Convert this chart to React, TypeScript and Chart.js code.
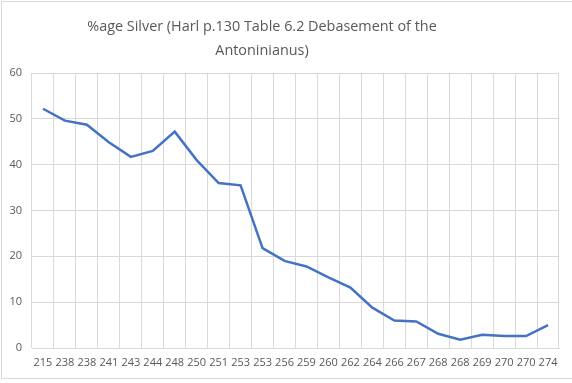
import React, { useEffect, useRef } from "react";
import { Chart, registerables } from "chart.js";

Chart.register(...registerables);

const categories = ["215", "238", "238", "241", "243", "244", "248", "250", "251", "253", "253", "256", "259", "260", "262", "264", "266", "267", "268", "268", "269", "270", "270", "274"];
const silverPct = [52.2, 49.6, 48.7, 44.9, 41.7, 43.0, 47.2, 41.0, 36.0, 35.5, 21.8, 19.0, 17.8, 15.4, 13.2, 8.8, 6.0, 5.8, 3.1, 1.8, 2.9, 2.6, 2.6, 5.0];
const titleLines = ["%age Silver (Harl p.130 Table 6.2 Debasement of the", "Antoninianus)"];

const titlePlugin = {
  id: "offsetTitle",
  afterDraw(chart: any) {
    const ctx = chart.ctx;
    ctx.save();
    ctx.fillStyle = "#595959";
    ctx.font = "14.4px 'Open Sans', sans-serif";
    ctx.textAlign = "center";
    ctx.textBaseline = "middle";
    titleLines.forEach((line, i) => {
      ctx.fillText(line, 262, 27 + i * 24);
    });
    ctx.restore();
  },
};

export default function App() {
  const ref = useRef<HTMLCanvasElement>(null);
  useEffect(() => {
    document.body.style.margin = "0";
    const chart = new Chart(ref.current!, {
      type: "line",
      data: {
        labels: categories,
        datasets: [
          {
            data: silverPct,
            borderColor: "#4472C4",
            borderWidth: 2.5,
            pointRadius: 0,
            tension: 0,
            fill: false,
          },
        ],
      },
      plugins: [titlePlugin],
      options: {
        animation: false,
        responsive: false,
        layout: { padding: { left: 0, right: 13, top: 73, bottom: 0 } },
        plugins: {
          legend: { display: false },
          tooltip: { enabled: false },
          title: { display: false },
        },
        scales: {
          x: {
            offset: true,
            grid: { offset: true, color: "#d9d9d9", drawTicks: false, lineWidth: 1 },
            border: { color: "#d9d9d9" },
            ticks: {
              color: "#595959",
              font: { family: "'Open Sans', sans-serif", size: 11 },
              autoSkip: false,
              maxRotation: 0,
              minRotation: 0,
              padding: 8,
            },
            afterFit: (s: any) => {
              s.height = 35;
            },
          },
          y: {
            min: 0,
            max: 60,
            grid: { color: "#d9d9d9", drawTicks: false },
            border: { display: false },
            ticks: {
              stepSize: 10,
              color: "#595959",
              font: { family: "'Open Sans', sans-serif", size: 11 },
              padding: 10,
            },
            afterFit: (s: any) => {
              s.width = 32;
            },
          },
        },
      },
    });
    return () => chart.destroy();
  }, []);
  return (
    <div style={{ position: "fixed", left: 0, top: 0, width: 572, height: 383, background: "#fff" }}>
      <canvas ref={ref} width={572} height={383} style={{ position: "absolute", left: 0, top: 0 }} />
      <div
        style={{
          position: "absolute",
          left: 1,
          top: 1,
          width: 580,
          height: 376,
          borderLeft: "1px solid #d9d9d9",
          borderTop: "1px solid #d9d9d9",
          borderBottom: "1px solid #d9d9d9",
          pointerEvents: "none",
        }}
      />
    </div>
  );
}
